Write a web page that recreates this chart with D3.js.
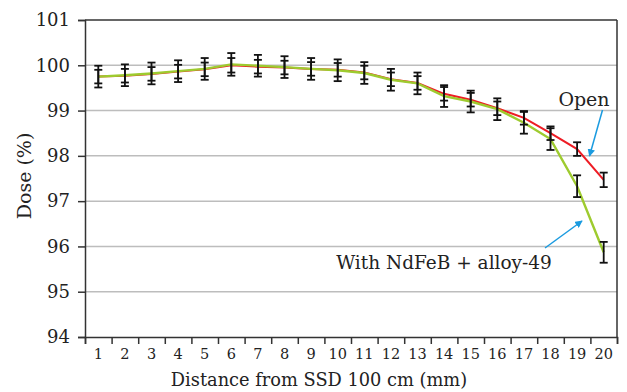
<!DOCTYPE html>
<html><head><meta charset="utf-8">
<script src="https://cdn.jsdelivr.net/npm/d3@7"></script>
<style>
body{margin:0;background:#fff;}
svg text{font-family:"DejaVu Serif","Liberation Serif","Times New Roman",serif;}
</style></head>
<body><svg id="c" width="627" height="392"></svg>
<script>
const categories = [1,2,3,4,5,6,7,8,9,10,11,12,13,14,15,16,17,18,19,20];
const openValues  = [99.75,99.77,99.81,99.86,99.91,100.00,99.97,99.95,99.92,99.90,99.84,99.69,99.61,99.37,99.24,99.05,98.84,98.50,98.15,97.47];
const alloyValues = [99.75,99.78,99.82,99.87,99.92,100.02,99.99,99.96,99.92,99.89,99.83,99.68,99.60,99.32,99.20,99.03,98.73,98.37,97.33,95.87];
const openErr  = [0.15,0.15,0.15,0.15,0.15,0.16,0.15,0.15,0.15,0.15,0.15,0.15,0.15,0.15,0.15,0.15,0.15,0.15,0.15,0.16];
const alloyErr = [0.24,0.24,0.24,0.24,0.24,0.25,0.24,0.24,0.24,0.24,0.24,0.24,0.24,0.24,0.24,0.24,0.24,0.24,0.24,0.23];
const yTicks = [94,95,96,97,98,99,100,101];
const gridTicks = [95,96,97,98,99,100];

const svg = d3.select("#c");
const L=85,R=617,T=20,B=337;
const x = d3.scaleBand().domain(categories).range([L,R]).padding(0);
const xb = d3.scaleLinear().domain([0,20]).range([L,R]);
const y = d3.scaleLinear().domain([94,101]).range([B,T]);
const cx = d => x(d)+x.bandwidth()/2;

svg.append("g").selectAll("line").data(gridTicks).join("line")
  .attr("x1",L).attr("x2",R).attr("y1",d=>y(d)).attr("y2",d=>y(d))
  .attr("stroke","#bdbdbd").attr("stroke-width",1.5);

svg.append("line").attr("x1",L).attr("x2",R).attr("y1",T).attr("y2",T).attr("stroke","#333").attr("stroke-width",1.5);
svg.append("line").attr("x1",R).attr("x2",R).attr("y1",T).attr("y2",B).attr("stroke","#333").attr("stroke-width",1.5);

const ya = svg.append("g").attr("transform",`translate(${L},0)`)
  .call(d3.axisLeft(y).tickValues(yTicks).tickSize(7).tickPadding(8).tickFormat(d3.format("d")));
ya.select(".domain").attr("stroke","#333").attr("stroke-width",1.5);
ya.selectAll(".tick line").attr("stroke","#333").attr("stroke-width",1.5);
ya.selectAll("text").attr("font-size",18).attr("fill","#222");

const xt = svg.append("g").attr("transform",`translate(0,${B})`)
  .call(d3.axisBottom(xb).tickValues(d3.range(0,21)).tickSize(7).tickFormat(""));
xt.select(".domain").attr("stroke","#333").attr("stroke-width",1.5);
xt.selectAll(".tick line").attr("stroke","#333").attr("stroke-width",1.5);
const xl = svg.append("g").attr("transform",`translate(0,${B})`)
  .call(d3.axisBottom(x).tickSize(0).tickPadding(12));
xl.select(".domain").remove();
xl.selectAll("text").attr("font-size",14.5).attr("fill","#222");

const lineGen = vals => d3.line().x((d,i)=>cx(categories[i])).y(d=>y(d))(vals);
svg.append("path").attr("d",lineGen(openValues)).attr("fill","none").attr("stroke","#ee1c24").attr("stroke-width",2);
svg.append("path").attr("d",lineGen(alloyValues)).attr("fill","none").attr("stroke","#9ecb2f").attr("stroke-width",2.4);

function errBars(vals, errs){
  const g = svg.append("g").attr("stroke","#111").attr("stroke-width",1.8);
  vals.forEach((v,i)=>{
    const c = cx(categories[i]);
    const y1=y(v+errs[i]), y2=y(v-errs[i]);
    g.append("line").attr("x1",c).attr("x2",c).attr("y1",y1).attr("y2",y2);
    g.append("line").attr("x1",c-4).attr("x2",c+4).attr("y1",y1).attr("y2",y1);
    g.append("line").attr("x1",c-4).attr("x2",c+4).attr("y1",y2).attr("y2",y2);
  });
}
errBars(openValues, openErr);
errBars(alloyValues, alloyErr);

svg.append("text").attr("x",319).attr("y",386).attr("text-anchor","middle")
  .attr("font-size",17.8).attr("fill","#222").text("Distance from SSD 100 cm (mm)");
svg.append("text").attr("transform",`translate(31,176) rotate(-90)`).attr("text-anchor","middle")
  .attr("font-size",19).attr("fill","#222").text("Dose (%)");

const defs = svg.append("defs");
defs.append("marker").attr("id","ah").attr("viewBox","0 0 10 10").attr("refX",9).attr("refY",5)
  .attr("markerWidth",5).attr("markerHeight",5).attr("orient","auto")
  .append("path").attr("d","M0,0L10,5L0,10z").attr("fill","#1a9be0");
svg.append("text").attr("x",584).attr("y",106).attr("text-anchor","middle").attr("font-size",19).attr("fill","#222").text("Open");
svg.append("line").attr("x1",602.5).attr("y1",110).attr("x2",589.5).attr("y2",156)
  .attr("stroke","#1a9be0").attr("stroke-width",1.5).attr("marker-end","url(#ah)");
svg.append("text").attr("x",444).attr("y",269).attr("text-anchor","middle").attr("font-size",18.5).attr("fill","#222").text("With NdFeB + alloy-49");
svg.append("line").attr("x1",545).attr("y1",248).attr("x2",582).attr("y2",221)
  .attr("stroke","#1a9be0").attr("stroke-width",1.5).attr("marker-end","url(#ah)");
</script></body></html>
